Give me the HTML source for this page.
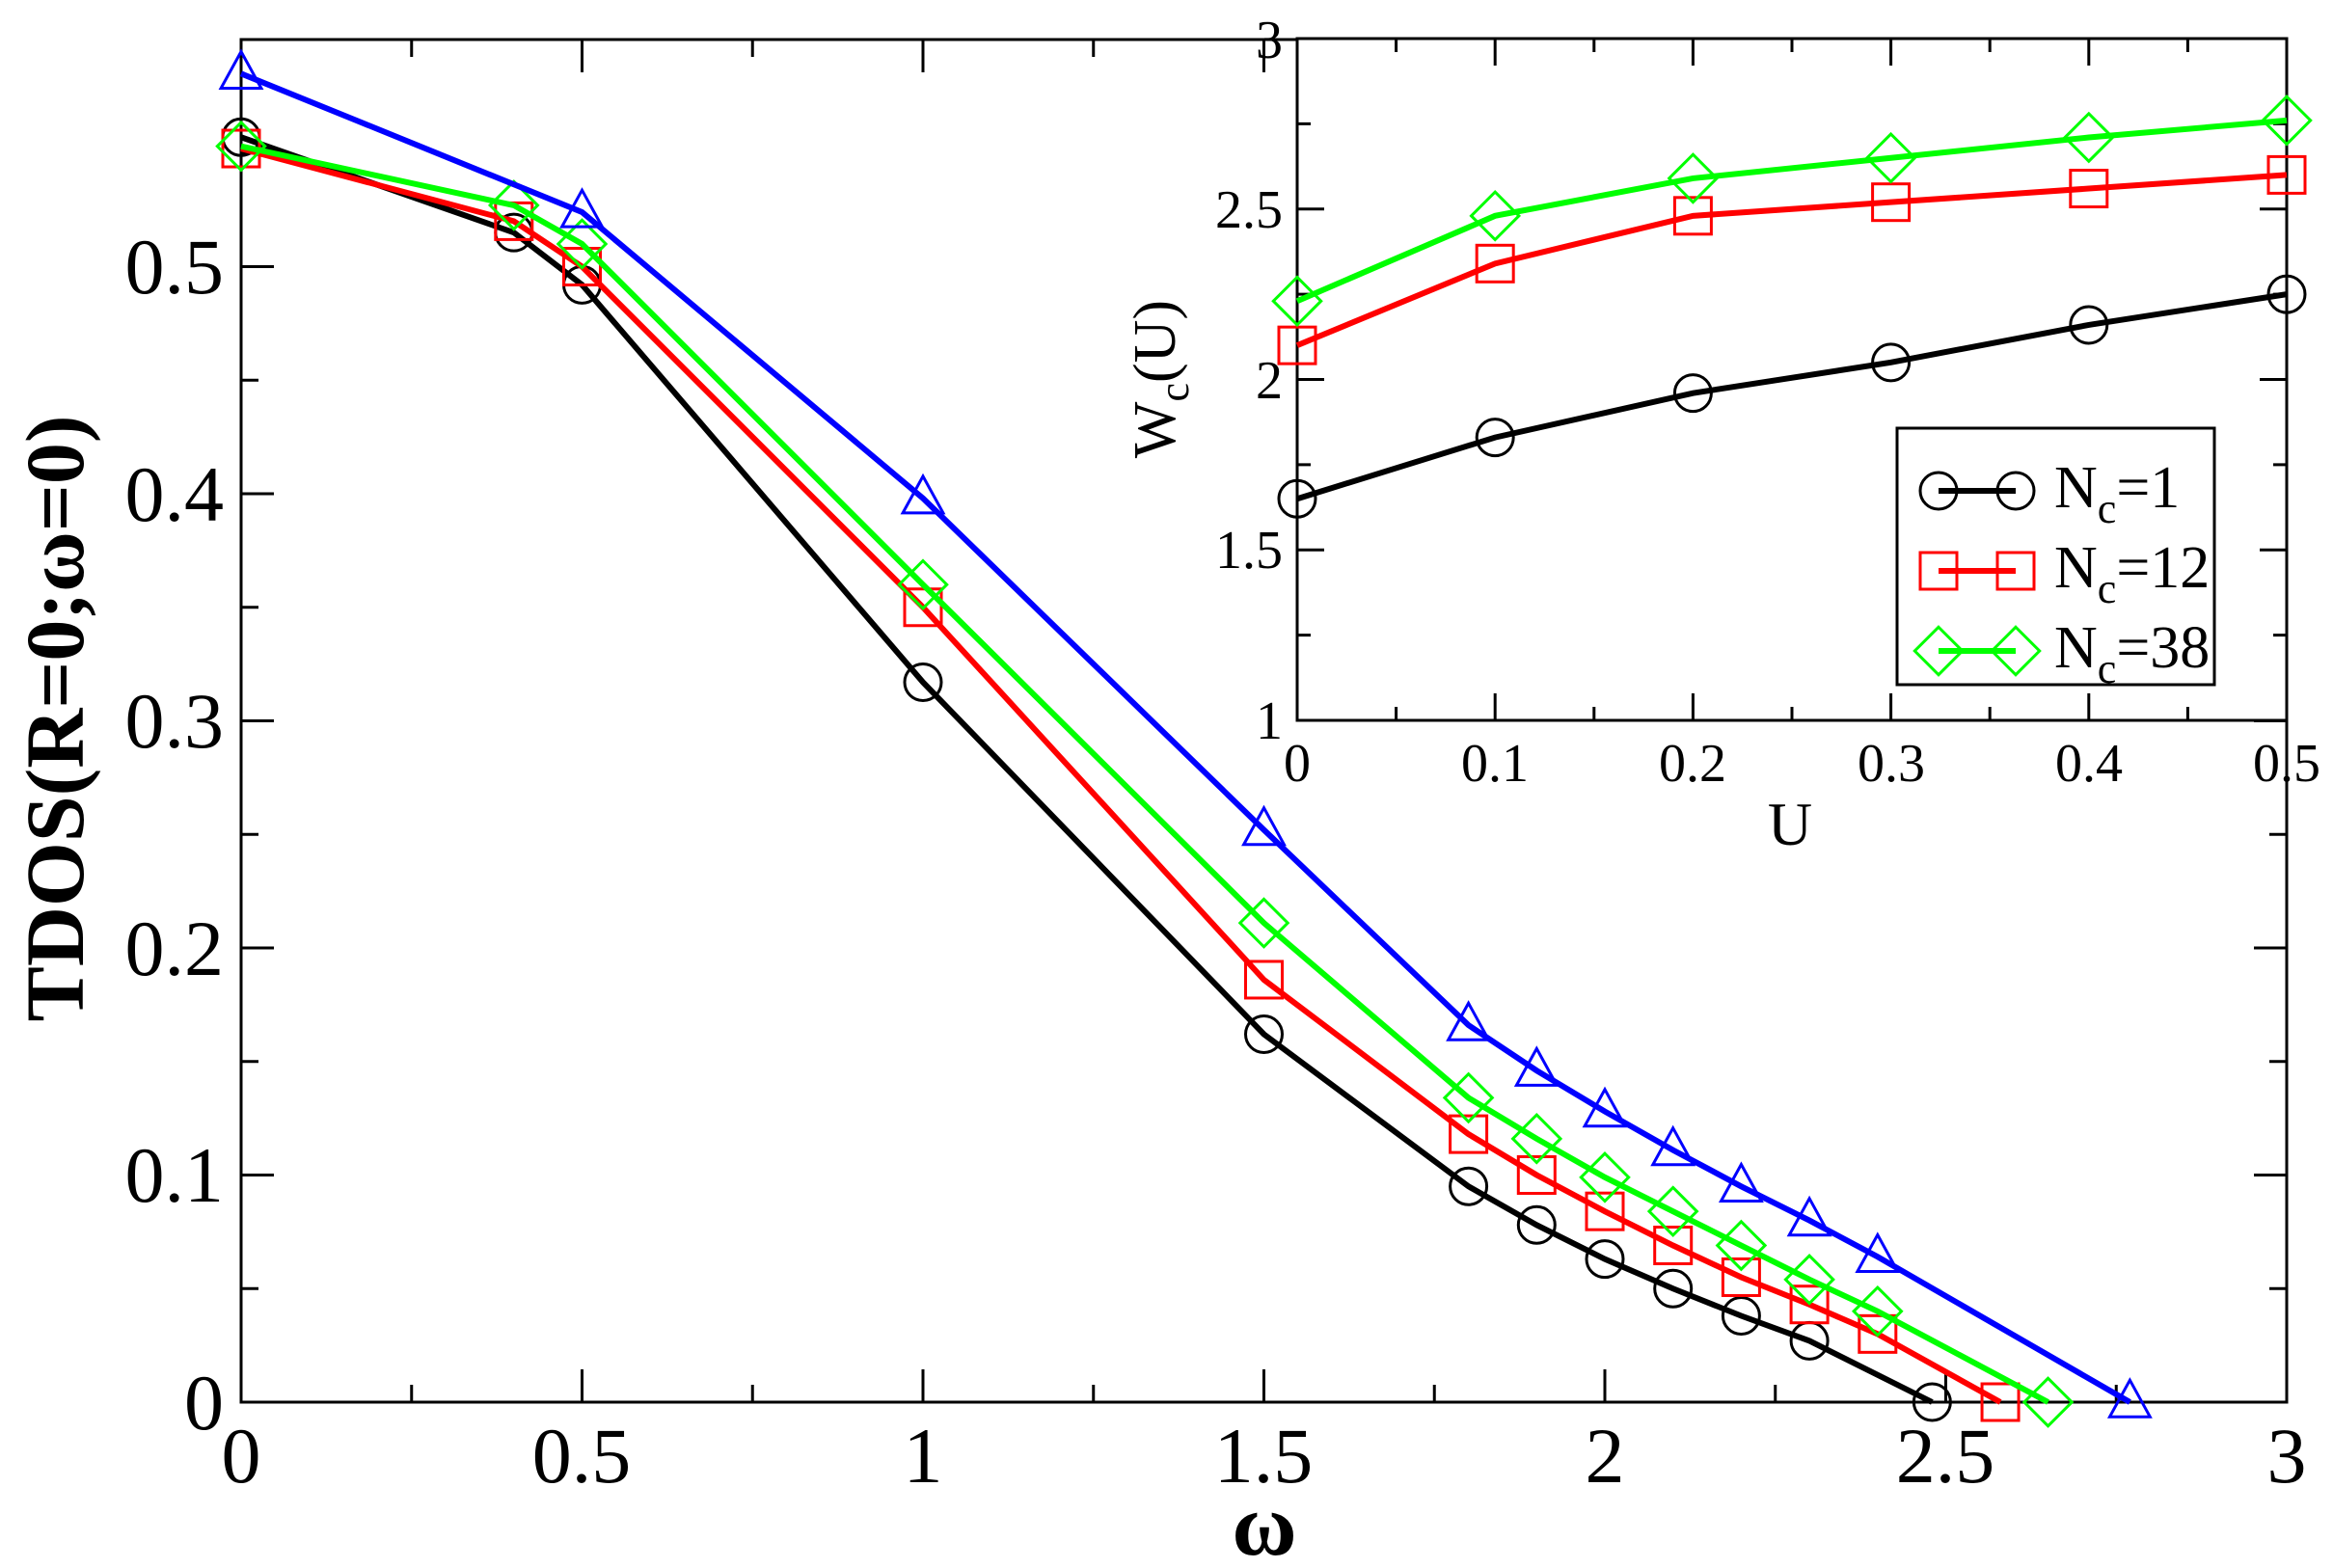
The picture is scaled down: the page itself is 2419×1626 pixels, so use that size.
<!DOCTYPE html>
<html><head><meta charset="utf-8"><style>
body{margin:0;background:#fff}
svg{display:block}
text{font-family:"Liberation Serif",serif;fill:#000}
</style></head><body>
<svg id="s" width="2419" height="1626" viewBox="0 0 2419 1626" xmlns="http://www.w3.org/2000/svg">
<rect width="2419" height="1626" fill="#fff"/>
<g id="main"></g>
<g font-size="82" text-anchor="end">
<text x="232" y="1482">0</text>
<text x="232" y="1246">0.1</text>
<text x="232" y="1011">0.2</text>
<text x="232" y="775">0.3</text>
<text x="232" y="540">0.4</text>
<text x="232" y="304">0.5</text>
</g>
<g font-size="82" text-anchor="middle">
<text x="250" y="1537">0</text>
<text x="603" y="1537">0.5</text>
<text x="957" y="1537">1</text>
<text x="1310" y="1537">1.5</text>
<text x="1664" y="1537">2</text>
<text x="2017" y="1537">2.5</text>
<text x="2371" y="1537">3</text>
</g>
<text x="1311" y="1612" font-size="92" font-weight="bold" text-anchor="middle">ω</text>
<text transform="translate(86,745) rotate(-90)" font-size="86" font-weight="bold" text-anchor="middle">TDOS(<tspan>R</tspan>=0;ω=0)</text>
<rect x="1345" y="40" width="1026" height="707" fill="#fff"/>
<g id="inset"></g>
<g font-size="56" text-anchor="end">
<text x="1330" y="766">1</text>
<text x="1330" y="589">1.5</text>
<text x="1330" y="413">2</text>
<text x="1330" y="236">2.5</text>
<text x="1330" y="60">3</text>
</g>
<g font-size="56" text-anchor="middle">
<text x="1345" y="810">0</text>
<text x="1550" y="810">0.1</text>
<text x="1755" y="810">0.2</text>
<text x="1961" y="810">0.3</text>
<text x="2166" y="810">0.4</text>
<text x="2371" y="810">0.5</text>
</g>
<text x="1856" y="876" font-size="64" text-anchor="middle">U</text>
<text transform="translate(1218,393) rotate(-90)" font-size="62" text-anchor="middle">W<tspan font-size="44" dy="14">c</tspan><tspan dy="-14">(U)</tspan></text>
<rect x="1967" y="444" width="329" height="266" fill="#fff" stroke="#000" stroke-width="3"/>
<g id="leg"></g>
<g font-size="62">
<text x="2130" y="526">N<tspan font-size="44" dy="16">c</tspan><tspan dy="-16">=1</tspan></text>
<text x="2130" y="609">N<tspan font-size="44" dy="16">c</tspan><tspan dy="-16">=12</tspan></text>
<text x="2130" y="692">N<tspan font-size="44" dy="16">c</tspan><tspan dy="-16">=38</tspan></text>
</g>
</svg>
<script>
var NS="http://www.w3.org/2000/svg";
function el(p,t,a){var e=document.createElementNS(NS,t);for(var k in a)e.setAttribute(k,a[k]);p.appendChild(e);return e;}
function marker(g,type,x,y,r,c){
 var a={fill:"none",stroke:c,"stroke-width":3};
 if(type=="o"){a.cx=x;a.cy=y;a.r=r;el(g,"circle",a);}
 else if(type=="s"){a.x=x-r;a.y=y-r;a.width=2*r;a.height=2*r;el(g,"rect",a);}
 else if(type=="d"){a.points=[x,y-r*1.3,x+r*1.3,y,x,y+r*1.3,x-r*1.3,y].join(" ");el(g,"polygon",a);}
 else {a.points=[x,y-r*1.2,x+r*1.1,y+r*0.8,x-r*1.1,y+r*0.8].join(" ");el(g,"polygon",a);}
}
var M=document.getElementById("main");
function MX(x){return 250+707*x;} function MY(y){return 1454-2355*y;}
var ser=[
["#000","o",[[0,.557],[.4,.515],[.5,.492],[1,.317],[1.5,.162],[1.8,.095],[1.9,.078],[2,.063],[2.1,.050],[2.2,.038],[2.3,.027],[2.48,0]]],
["#f00","s",[[0,.552],[.4,.52],[.5,.50],[1,.35],[1.5,.186],[1.8,.118],[1.9,.100],[2,.084],[2.1,.069],[2.2,.055],[2.3,.043],[2.4,.030],[2.58,0]]],
["#0f0","d",[[0,.553],[.4,.527],[.5,.51],[1,.36],[1.5,.211],[1.8,.134],[1.9,.116],[2,.099],[2.1,.084],[2.2,.069],[2.3,.054],[2.4,.040],[2.65,0]]],
["#00f","t",[[0,.585],[.5,.524],[1,.398],[1.5,.252],[1.8,.166],[1.9,.146],[2,.128],[2.1,.111],[2.2,.095],[2.3,.080],[2.4,.064],[2.77,0]]]];
var d="";
for(var i=0;i<=12;i++){var x=MX(i*0.25),L=i%2?18:34;d+="M"+x+" 1454v-"+L+"M"+x+" 41v"+L;}
for(var i=0;i<=12;i++){var y=MY(i*0.05),L=i%2?18:34;d+="M250 "+y+"h"+L+"M2371 "+y+"h-"+L;}
el(M,"path",{d:d,stroke:"#000","stroke-width":3,fill:"none"});
el(M,"rect",{x:250,y:41,width:2121,height:1413,fill:"none",stroke:"#000","stroke-width":3});
ser.forEach(function(s){
 el(M,"polyline",{points:s[2].map(function(p){return MX(p[0])+","+MY(p[1]);}).join(" "),fill:"none",stroke:s[0],"stroke-width":6});
 s[2].forEach(function(p){marker(M,s[1],MX(p[0]),MY(p[1]),19,s[0]);});
});
var I=document.getElementById("inset");
function IX(u){return 1345+2052*u;} function IY(w){return 747-353.5*(w-1);}
d="";
for(var i=0;i<=10;i++){var x=IX(i*0.05),L=i%2?14:28;d+="M"+x+" 747v-"+L+"M"+x+" 40v"+L;}
for(var i=0;i<=8;i++){var y=IY(1+i*0.25),L=i%2?14:28;d+="M1345 "+y+"h"+L+"M2371 "+y+"h-"+L;}
el(I,"path",{d:d,stroke:"#000","stroke-width":3,fill:"none"});
el(I,"rect",{x:1345,y:40,width:1026,height:707,fill:"none",stroke:"#000","stroke-width":3});
var iser=[["#000","o",[1.65,1.83,1.96,2.05,2.16,2.25]],["#f00","s",[2.1,2.34,2.48,2.52,2.56,2.60]],["#0f0","d",[2.23,2.48,2.59,2.65,2.71,2.76]]];
iser.forEach(function(s){
 el(I,"polyline",{points:s[2].map(function(w,i){return IX(i*0.1)+","+IY(w);}).join(" "),fill:"none",stroke:s[0],"stroke-width":6});
 s[2].forEach(function(w,i){marker(I,s[1],IX(i*0.1),IY(w),19,s[0]);});
});
var G=document.getElementById("leg");
iser.forEach(function(s,k){var y=509+83*k;
 el(G,"line",{x1:2010,y1:y,x2:2090,y2:y,stroke:s[0],"stroke-width":6});
 marker(G,s[1],2010,y,19,s[0]);marker(G,s[1],2090,y,19,s[0]);});
</script>
</body></html>
